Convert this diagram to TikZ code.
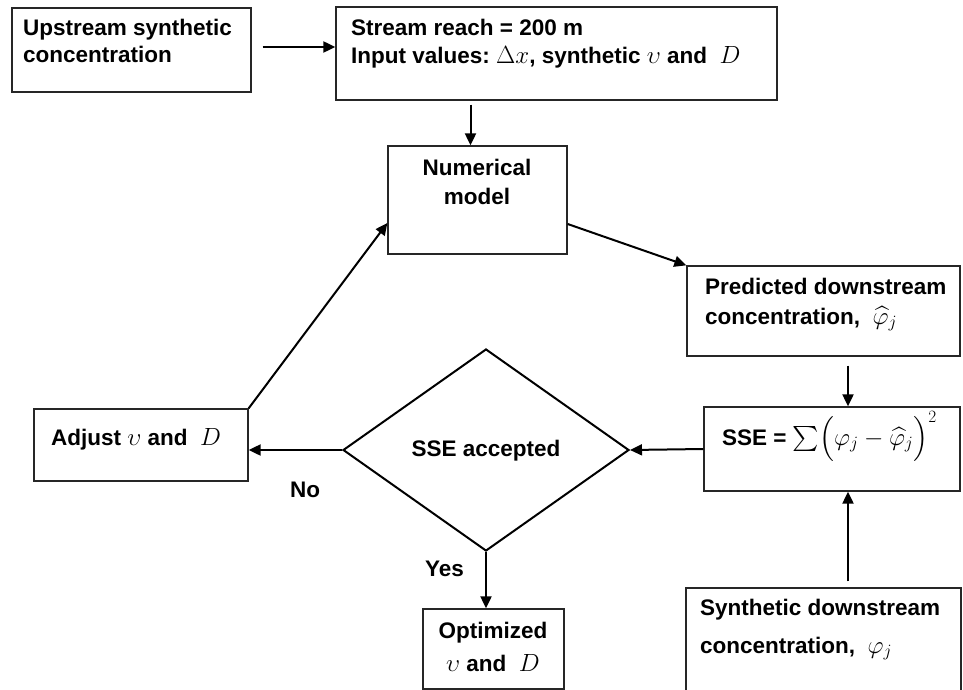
\documentclass[tikz,border=0pt]{standalone}
\usepackage{amsmath}
\usepackage{amssymb}
\usepackage[no-math]{fontspec}
\setmainfont{Liberation Sans}
\usepackage{tikz}
\usetikzlibrary{shapes.geometric,arrows.meta,calc}

\newcommand{\mth}[1]{{\fontsize{25}{28}\selectfont$#1$}}

\tikzset{
	box/.style={draw=black!85, line width=1.3pt, inner sep=0pt},
	txt/.style={font=\bfseries\fontsize{22.5}{28}\selectfont, inner sep=0pt, anchor=base west, align=left},
	arr/.style={line width=2pt, -{Triangle[length=12pt,width=11pt]}}
}

\begin{document}
\begin{tikzpicture}[x=1pt,y=-1pt]
			\clip (0,0) rectangle (963,690);
			% boxes
			\node[box, minimum width=239, minimum height=84]  (up)    at (131.5,50) {};
			\node[box, minimum width=441, minimum height=93]  (reach) at (556.5,53.5) {};
			\node[box, minimum width=179, minimum height=108] (num)   at (477.5,200) {};
			\node[box, minimum width=273, minimum height=90]  (pred)  at (823.5,311) {};
			\node[box, minimum width=256, minimum height=84]  (sse)   at (832,449) {};
			\node[box, minimum width=275, minimum height=112] (syn)   at (823.5,644) {};
			\node[box, minimum width=214, minimum height=72]  (adj)   at (141,445) {};
			\node[box, minimum width=141, minimum height=80]  (opt)   at (493.5,649) {};
			\node[draw, line width=2pt, diamond, minimum width=286, minimum height=202, inner sep=0pt] (dia) at (486,450) {};
			% texts
			\node[txt] (t1) at (23,36) {Upstream synthetic};
			\node[txt] (t2) at (23,63) {concentration};
			\node[txt] (t3) at (351,36) {Stream reach = 200 m};
			\node[txt] (t4) at (351,64) {Input values:\ \mth{\Delta x}, synthetic\ \mth{\upsilon}\ and\ \ \mth{D}};
			\node[txt, anchor=base] (t5) at (477,175) {Numerical};
			\node[txt, anchor=base] (t6) at (477,204) {model};
			\node[txt] (t7) at (705,294) {Predicted\ downstream};
			\node[txt] (t8) at (705,324) {concentration,\ \ \mth{\widehat{\varphi}_j}};
			\node[txt] (t9) at (722,445) {SSE = \mth{\sum\Bigl(\varphi_j-\widehat{\varphi}_j\Bigr)^2}};
			\node[txt] (t10) at (700,615) {Synthetic downstream};
			\node[txt] (t11) at (700,653) {concentration,\ \ \mth{\varphi_j}};
			\node[txt] (t12) at (51,445) {Adjust\ \mth{\upsilon}\ and\ \ \mth{D}};
			\node[txt, anchor=base] (t13) at (486,456) {SSE accepted};
			\node[txt, anchor=base] (t14) at (493,638) {Optimized};
			\node[txt, anchor=base] (t15) at (493,671) {\mth{\upsilon}\ and\ \ \mth{D}};
			\node[txt] (no)  at (290,497) {No};
			\node[txt] (yes) at (425,576) {Yes};
			% arrows
			\draw[arr] ($(up.east)+(11,-3)$) -- ($(up.east -| reach.west)+(0,-3)$);
			\draw[arr] ($(num.north |- reach.south)+(-7,4)$) -- ($(num.north)+(-7,0)$);
			\draw[arr] ($(num.east)+(0,24)$) -- (pred.north west);
			\draw[arr] ($(pred.south)+(24.5,9)$) -- ($(sse.north)+(16,0)$);
			\draw[arr] ($(syn.north)+(24.5,-6)$) -- ($(sse.south)+(16,0)$);
			\draw[arr] (sse.west) -- (dia.east);
			\draw[arr] (dia.west) -- (dia.west -| adj.east);
			\draw[arr] (adj.north east) -- ($(num.west)+(0,23)$);
			\draw[arr] (dia.south) -- (dia.south |- opt.north);
\end{tikzpicture}
\end{document}
